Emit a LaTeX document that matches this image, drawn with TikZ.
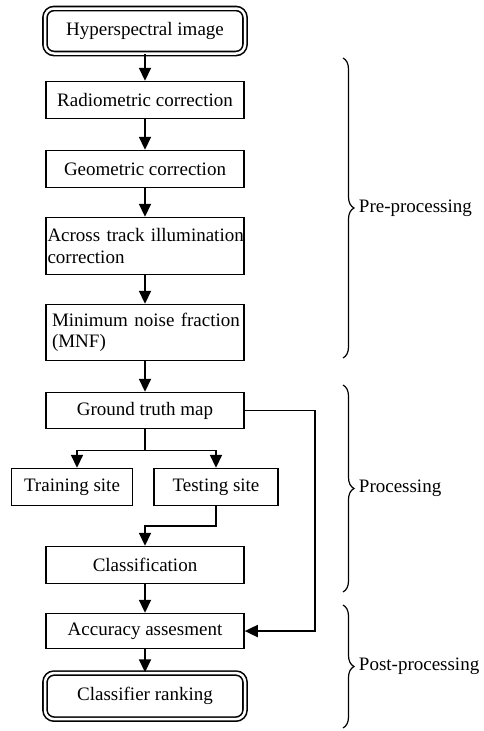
\documentclass[tikz,border=0pt]{standalone}
\usepackage{fontspec}
\setmainfont{Liberation Serif}
\usetikzlibrary{positioning,calc,arrows.meta,decorations.pathreplacing}

\begin{document}
\begin{tikzpicture}[x=1pt, y=-1pt,
				font=\fontsize{19}{21.5}\selectfont,
				stage/.style={rectangle, draw=black, line width=1.5pt, minimum width=198pt, minimum height=37pt, inner sep=3pt},
				endbox/.style={rectangle, rounded corners=9pt, draw=black, double, double distance=2.5pt, line width=1.6pt, minimum width=200pt, minimum height=45pt},
				phase/.style={decorate, decoration={brace, amplitude=11pt}, line width=1.2pt},
				phaselabel/.style={midway, right=12pt}
			]
			\useasboundingbox (0,0) rectangle (483,731);
			\node[endbox] (hsi) at (145,31) {Hyperspectral image};
			\node[stage] (radio) [below=26.5pt of hsi] {Radiometric correction};
			\node[stage] (geo) [below=30.5pt of radio] {Geometric correction};
			\node[stage, text width=195pt, inner xsep=1.5pt, align=left, minimum height=57pt] (atic) [below=28.5pt of geo] {\mbox{Across track illumination}\\correction};
			\node[stage, text width=186pt, inner xsep=6pt, align=left, minimum height=56pt] (mnf) [below=28.5pt of atic] {\mbox{Minimum noise fraction}\\(MNF)};
			\node[stage, minimum height=36pt] (gt) [below=30.5pt of mnf] {Ground truth map};
			\node[stage, minimum width=124pt] (test) [below=38.5pt of gt, xshift=71pt] {Testing site};
			\node[stage, minimum width=121pt] (train) [left=20pt of test] {Training site};
			\node[stage] (class) [below=39.5pt of test, xshift=-71pt] {Classification};
			\node[stage, minimum height=35pt] (acc) [below=28.5pt of class] {Accuracy assesment};
			\node[endbox, minimum height=46pt] (rank) [below=23pt of acc] {Classifier ranking};
			\coordinate (fork) at ($(gt.south)!0.55!(gt.south |- test.north)$);
			\coordinate (bend) at ($(test.south)!0.5!(test.south |- class.north)$);
			\begin{scope}[line width=1.8pt, -{Triangle[width=12pt,length=13pt]}]
			\draw (hsi) -- (radio);
			\draw (radio) -- (geo);
			\draw (geo) -- (atic);
			\draw (atic) -- (mnf);
			\draw (mnf) -- (gt);
			\draw[-] (gt.south) -- (fork);
			\draw (fork) -| ([xshift=5pt]train.north);
			\draw (fork) -| (test.north);
			\draw (test.south) -- (bend) -| (class.north);
			\draw (class) -- (acc);
			\draw (acc) -- (rank);
			\draw (gt.east) -- ++(70pt,0) |- (acc.east);
			\end{scope}
			\coordinate (pretop) at (343,58);
			\coordinate (prebot) at (343,358);
			\coordinate (protop) at (343,385);
			\coordinate (probot) at (343,592);
			\coordinate (posttop) at (343,605);
			\coordinate (postbot) at (343,728);
			\draw[phase] (pretop) -- (prebot) node[phaselabel] {Pre-processing};
			\draw[phase] (protop) -- (probot) node[phaselabel] {Processing};
			\draw[phase] (posttop) -- (postbot) node[phaselabel] {Post-processing};
			\end{tikzpicture}
\end{document}
